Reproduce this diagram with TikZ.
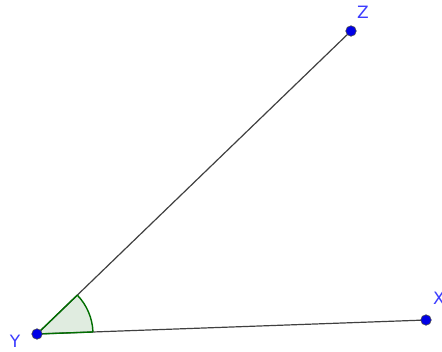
\documentclass[tikz,border=0pt]{standalone}
\usetikzlibrary{calc}
\usepackage{fontspec}
\setmainfont{DejaVu Sans}
\definecolor{ptblue}{RGB}{0,0,230}
\definecolor{lblblue}{RGB}{60,60,255}
\definecolor{anggreen}{RGB}{0,110,0}
\definecolor{angfill}{RGB}{224,236,224}
\begin{document}
\begin{tikzpicture}[x=1pt,y=-1pt,
  pt/.style={circle,fill=ptblue,draw=black!70,line width=0.6pt,inner sep=0pt,minimum size=10.5pt},
  lbl/.style={text=lblblue,font=\fontsize{17}{17}\selectfont,inner sep=0pt},
  seg/.style={draw=black!75,line width=1.2pt}]
\useasboundingbox (0,0) rectangle (442,351);
\coordinate (Yc) at (37,334);
\coordinate (Zc) at (351,31);
\coordinate (Xc) at (426,320);
% angle
\fill[angfill] (Yc) -- ++(-2.06:56) arc[start angle=-2.06,end angle=-43.98,radius=56] -- cycle;
\draw[seg] (Yc) -- (Zc);
\draw[seg] (Yc) -- (Xc);
\draw[anggreen,line width=1.4pt] ($(Yc)+(-2.06:56)$) arc[start angle=-2.06,end angle=-43.98,radius=56];
\draw[anggreen,line width=1.4pt] (Yc) -- ++(-2.06:56);
\draw[anggreen,line width=1.4pt] (Yc) -- ++(-43.98:56);
\node[pt] (Y) at (Yc) {};
\node[pt] (Z) at (Zc) {};
\node[pt] (X) at (Xc) {};
\node[lbl] (Yl) at (15,341) {Y};
\node[lbl] (Zl) at (363,12) {Z};
\node[lbl] (Xl) at (439,298) {X};
\end{tikzpicture}
\end{document}
